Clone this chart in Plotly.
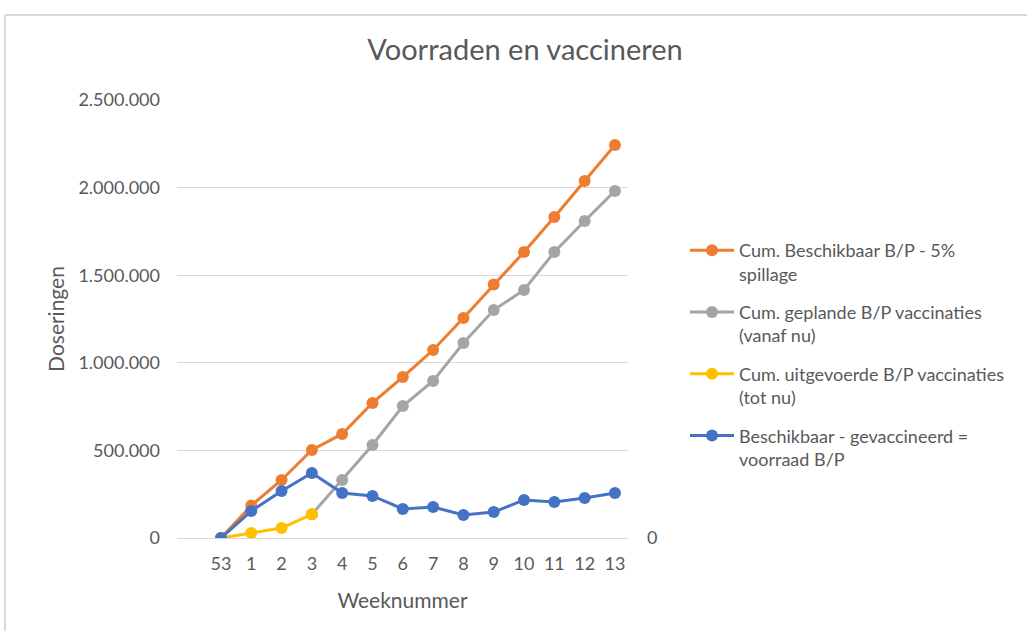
import plotly.graph_objects as go

weeks = ["53", "1", "2", "3", "4", "5", "6", "7", "8", "9", "10", "11", "12", "13"]

beschikbaar = [0, 185000, 331000, 502000, 594000, 771000, 919000, 1073000, 1256000,
               1447000, 1632000, 1832000, 2038000, 2243000]
gepland = [None, None, None, 135000, 331000, 531000, 753000, 896000, 1113000,
           1301000, 1416000, 1632000, 1809000, 1981000]
uitgevoerd = [0, 29000, 57000, 135000, None, None, None, None, None, None, None, None, None, None]
voorraad = [0, 154000, 268000, 371000, 257000, 240000, 166000, 177000, 131000,
            148000, 217000, 205000, 228000, 257000]

names = [
    "Cum. Beschikbaar B/P - 5%<br>spillage",
    "Cum. geplande B/P vaccinaties<br>(vanaf nu)",
    "Cum. uitgevoerde B/P vaccinaties<br>(tot nu)",
    "Beschikbaar - gevaccineerd =<br>voorraad B/P",
]
series = [beschikbaar, gepland, uitgevoerd, voorraad]
colors = ["#ED7D31", "#A5A5A5", "#FFC000", "#4472C4"]

FONT = "Lato"
TXT = "#595959"

fig = go.Figure()
for i, (n, s, c) in enumerate(zip(names, series, colors)):
    fig.add_trace(go.Scatter(
        x=weeks, y=s, name=n, mode="lines+markers",
        line=dict(color=c, width=3),
        marker=dict(color=c, size=12),
        legendgroup=f"g{i}",
        connectgaps=False,
    ))

# empty trace so the secondary (right) axis with its single "0" tick is drawn
fig.add_trace(go.Scatter(x=[weeks[0]], y=[None], yaxis="y2", showlegend=False,
                         hoverinfo="skip", mode="lines"))

fig.update_layout(
    width=1027, height=631,
    margin=dict(l=177, r=399, t=100, b=93),
    paper_bgcolor="white", plot_bgcolor="white",
    separators=",.",
    font=dict(family=FONT, color=TXT, size=18),
    title=dict(text="Voorraden en vaccineren", x=525/1027, xanchor="center",
               y=1-50/631, yanchor="middle", xref="container", yref="container",
               font=dict(family=FONT, size=29, color=TXT)),
    xaxis=dict(type="category", range=[-1.45, 13.43], showgrid=False,
               showline=False, ticks="", tickfont=dict(size=18, color=TXT),
               title=dict(text="Weeknummer", font=dict(size=21, color=TXT), standoff=20),
               ticklabelstandoff=13),
    yaxis=dict(range=[0, 2500000], tickvals=[0, 500000, 1000000, 1500000, 2000000, 2500000],
               tickformat=",d", showgrid=True, gridcolor="#D9D9D9", gridwidth=1,
               zeroline=True, zerolinecolor="#D9D9D9", zerolinewidth=1,
               showline=False, ticks="", tickfont=dict(size=18, color=TXT),
               ticklabelstandoff=16,
               title=dict(text="Doseringen", font=dict(size=21, color=TXT), standoff=8)),
    yaxis2=dict(overlaying="y", side="right", range=[0, 1], tickvals=[0],
                showgrid=False, zeroline=False, showline=False, ticks="",
                tickfont=dict(size=18, color=TXT), ticklabelstandoff=18),
    legend=dict(x=(685-177)/451, xanchor="left", y=(538-232)/438, yanchor="top",
                font=dict(size=18, color=TXT), tracegroupgap=12, valign="top",
                itemwidth=44, bgcolor="rgba(0,0,0,0)"),
    showlegend=True,
    shapes=[
        dict(type="line", xref="paper", yref="paper", x0=(5-177)/451, x1=(1027-177)/451,
             y0=(538-15)/438, y1=(538-15)/438, line=dict(color="#D9D9D9", width=2)),
        dict(type="line", xref="paper", yref="paper", x0=(5-177)/451, x1=(5-177)/451,
             y0=(538-15)/438, y1=(538-631)/438, line=dict(color="#D9D9D9", width=2)),
    ],
)

fig.write_html("out.html", config={"displayModeBar": False},
               post_script="document.body.style.margin='0px';")
